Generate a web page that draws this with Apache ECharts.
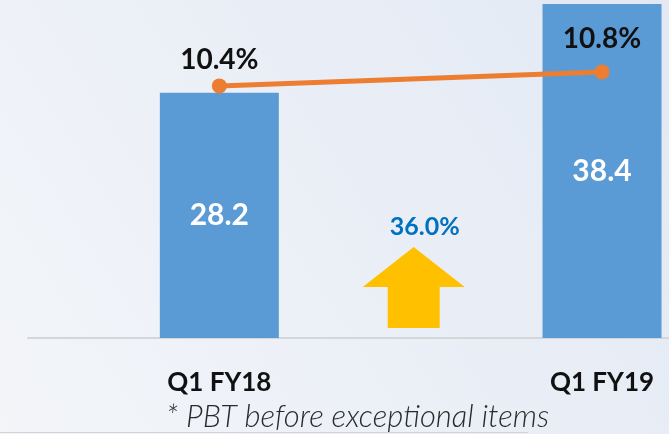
<!DOCTYPE html>
<html>
<head>
<meta charset="utf-8">
<script src="https://cdn.jsdelivr.net/npm/echarts@6/dist/echarts.min.js"></script>
<style>
  html, body { margin: 0; padding: 0; }
  #chart { width: 669px; height: 434px; }
</style>
</head>
<body>
<div id="chart"></div>
<script>
// Quarterly PBT (bars) and PBT margin % (line)
const categories = ['Q1 FY18', 'Q1 FY19'];
const pbtValues = [28.2, 38.4];
const marginValues = [10.4, 10.8];
const growthLabel = '36.0%';
const footnote = '* PBT before exceptional items';

const FONT = 'Lato, "Open Sans", sans-serif';

const chart = echarts.init(document.getElementById('chart'), null, { renderer: 'canvas' });

// Numeric x positions for each category (0, 1, ...)
const pbtData = pbtValues.map((v, i) => [i, v]);
// gap between each margin point and its label
const marginLabelGap = [4, 11];
const marginData = marginValues.map((v, i) => ({
  value: [i, v],
  label: { distance: marginLabelGap[i] }
}));

const option = {
  animation: false,
  backgroundColor: {
    type: 'linear', x: 0, y: 1, x2: 1, y2: 0,
    colorStops: [
      { offset: 0, color: '#F3F5F9' },
      { offset: 1, color: '#E2E9F4' }
    ]
  },
  grid: { left: 28, right: 0, top: 4, bottom: 96 },
  xAxis: {
    type: 'value',
    min: -0.5,
    max: 1.175,
    interval: 0.5,
    splitLine: { show: false },
    axisLine: { show: true, onZero: false, lineStyle: { color: '#D4D6DA', width: 2 } },
    axisTick: { show: false },
    axisLabel: {
      margin: 32,
      color: '#111111',
      fontFamily: FONT,
      fontWeight: 'bold',
      fontSize: 26,
      showMinLabel: false,
      showMaxLabel: false,
      formatter: v => (Number.isInteger(v) && categories[v] !== undefined) ? categories[v] : ''
    }
  },
  yAxis: [
    { type: 'value', min: 0, max: 38.4, show: false, splitLine: { show: false } },
    { type: 'value', min: 3.2, max: 12.74, show: false, splitLine: { show: false } }
  ],
  series: [
    {
      type: 'bar',
      data: pbtData,
      barWidth: 119,
      itemStyle: { color: '#5B9BD5' },
      label: {
        show: true,
        position: 'inside',
        color: '#FFFFFF',
        fontFamily: FONT,
        fontWeight: 'bold',
        fontSize: 30,
        formatter: p => p.value[1].toFixed(1)
      },
      z: 2
    },
    {
      type: 'line',
      yAxisIndex: 1,
      data: marginData,
      symbol: 'circle',
      symbolSize: 15,
      lineStyle: { color: '#ED7D31', width: 5 },
      itemStyle: { color: '#ED7D31' },
      label: {
        show: true,
        position: 'top',
        distance: 11,
        color: '#111111',
        fontFamily: FONT,
        fontWeight: 'bold',
        fontSize: 28,
        formatter: p => p.value[1].toFixed(1) + '%'
      },
      z: 5
    }
  ]
};

chart.setOption(option);

// Growth arrow placed midway between the two bars, on the baseline
const xa = chart.convertToPixel({ xAxisIndex: 0 }, 0);
const xb = chart.convertToPixel({ xAxisIndex: 0 }, 1);
const base = chart.convertToPixel({ yAxisIndex: 0 }, 0);
const cx = (xa + xb) / 2 + 3;
const shaftBottom = base - 10;
const shaftTop = shaftBottom - 41;
const tipY = shaftTop - 40;

chart.setOption({
  graphic: [
    {
      type: 'polygon',
      shape: {
        points: [
          [cx - 26, shaftBottom], [cx + 26, shaftBottom],
          [cx + 26, shaftTop], [cx + 51, shaftTop],
          [cx, tipY],
          [cx - 51, shaftTop], [cx - 26, shaftTop]
        ]
      },
      style: { fill: '#FFC000' },
      z: 10
    },
    {
      type: 'text',
      x: cx + 11,
      y: tipY - 20,
      style: {
        text: growthLabel,
        fill: '#0070C0',
        font: 'bold 25px ' + FONT,
        textAlign: 'center',
        textVerticalAlign: 'middle'
      },
      z: 10
    },
    {
      type: 'text',
      x: 166,
      y: 417,
      style: {
        text: footnote,
        fill: '#2A2A2A',
        font: 'italic 300 31px ' + FONT,
        textAlign: 'left',
        textVerticalAlign: 'middle'
      },
      z: 10
    },
    {
      type: 'line',
      shape: { x1: 0, y1: 432.5, x2: 528, y2: 432.5 },
      style: { stroke: '#D0D3D8', lineWidth: 1 },
      z: 10
    }
  ]
});
</script>
</body>
</html>
